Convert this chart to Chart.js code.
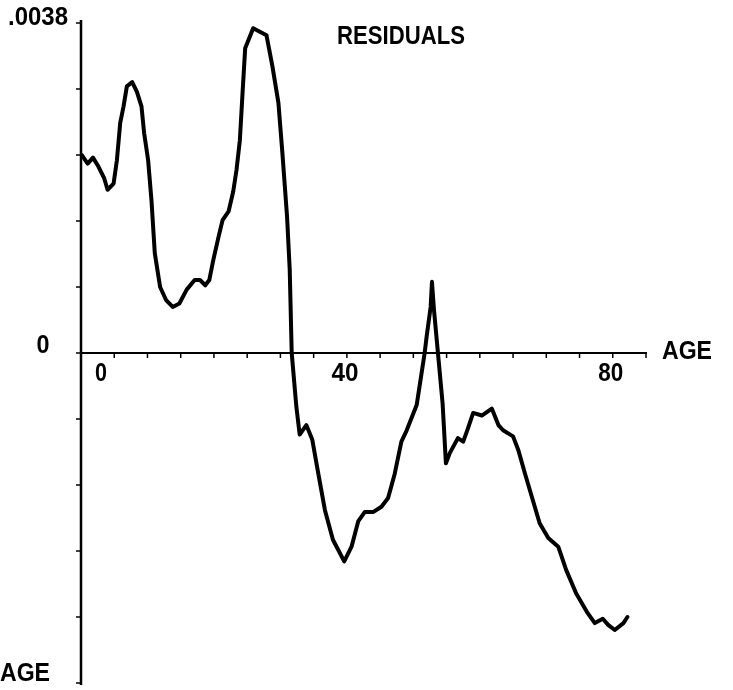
<!DOCTYPE html>
<html>
<head>
<meta charset="utf-8">
<script src="https://cdn.jsdelivr.net/npm/chart.js@4/dist/chart.umd.min.js"></script>
<style>
  body { margin: 0; background: #fff; }
  #wrap { width: 733px; height: 690px; }
</style>
</head>
<body>
<div id="wrap"><canvas id="residualChart" width="733" height="690"></canvas></div>
<script>
// values (age in years, residual)
const ages = [
  0.1, 1.0, 1.8, 2.6, 3.5, 4.0, 4.9, 5.4, 5.9, 6.4, 6.9, 7.7, 8.4, 9.1, 9.5, 10.1,
  10.6, 11.1, 11.9, 12.8, 13.8, 14.8, 15.9, 17.1, 17.9, 18.7, 19.3, 19.9, 20.7, 21.3,
  22.2, 22.9, 23.4, 23.9, 24.3, 24.7, 25.9, 26.9, 27.9, 28.8, 29.7, 30.3, 31.0, 31.4,
  31.7, 32.4, 32.9, 33.9, 34.8, 35.7, 36.7, 37.9, 39.6, 40.7, 41.7, 42.7, 44.0, 45.2,
  46.2, 47.2, 48.2, 49.0, 50.5, 51.0, 51.7, 52.0, 52.6, 52.8, 53.1, 53.7, 54.4, 54.9,
  55.5, 56.7, 57.5, 58.2, 59.0, 60.3, 61.8, 62.8, 63.5, 65.0, 65.8, 66.8, 67.8, 69.0,
  70.3, 71.8, 73.0, 74.5, 76.1, 77.3, 78.5, 79.3, 80.3, 81.6, 82.2
];
const residuals = [
  0.00228, 0.00218, 0.00225, 0.00215, 0.00201, 0.00188, 0.00195, 0.00222, 0.00265, 0.00284,
  0.00307, 0.00312, 0.00301, 0.00284, 0.00253, 0.00222, 0.00176, 0.00115, 0.00076, 0.00061,
  0.00053, 0.00057, 0.00073, 0.00084, 0.00084, 0.00078, 0.00084, 0.00107, 0.00134, 0.00153,
  0.00163, 0.00186, 0.00211, 0.00245, 0.00299, 0.00351, 0.00374, 0.00370, 0.00366, 0.00330,
  0.00288, 0.00230, 0.00157, 0.00096, 0.00000, -0.00062, -0.00094, -0.00083, -0.00100, -0.00139,
  -0.00181, -0.00215, -0.00240, -0.00223, -0.00194, -0.00183, -0.00183, -0.00177, -0.00167, -0.00139,
  -0.00102, -0.00089, -0.00060, -0.00035, 0.00000, 0.00019, 0.00053, 0.00082, 0.00050, 0.00000,
  -0.00058, -0.00127, -0.00115, -0.00098, -0.00102, -0.00087, -0.00069, -0.00072, -0.00064, -0.00083,
  -0.00089, -0.00096, -0.00112, -0.00139, -0.00165, -0.00196, -0.00213, -0.00223, -0.00250, -0.00277,
  -0.00298, -0.00311, -0.00306, -0.00313, -0.00319, -0.00311, -0.00304
];

// axis setup
const ageMin = 0, ageMax = 85, ageStep = 5;
const ageLabels = [0, 40, 80];
const ageLabelWidths = [12, 27, 25];
const resMax = 0.0038, resStep = 0.00076;

const FONT = "'Liberation Sans', Arial, sans-serif";

// draw text squeezed to a given width (the original lettering is condensed)
function fitText(ctx, text, cx, cy, size, width, weight) {
  ctx.save();
  ctx.font = (weight || 'bold') + ' ' + size + 'px ' + FONT;
  ctx.textAlign = 'center';
  ctx.textBaseline = 'middle';
  const w = ctx.measureText(text).width;
  ctx.translate(cx, cy);
  ctx.scale(width / w, 1);
  ctx.fillText(text, 0, 0);
  ctx.restore();
}

const axesPlugin = {
  id: 'oldAxes',
  beforeDatasetsDraw(chart) {
    const ctx = chart.ctx;
    const x = chart.scales.x, y = chart.scales.y;
    const x0 = x.getPixelForValue(0);
    const y0 = y.getPixelForValue(0);
    const yTop = y.getPixelForValue(resMax);
    const yBot = y.getPixelForValue(-resMax);
    ctx.save();
    ctx.strokeStyle = '#000';
    // vertical axis
    ctx.lineWidth = 2.5;
    ctx.beginPath();
    ctx.moveTo(x0, yTop - 3);
    ctx.lineTo(x0, yBot + 2);
    ctx.stroke();
    ctx.lineWidth = 1.5;
    for (let k = -5; k <= 5; k++) {
      const py = y.getPixelForValue(k * resStep);
      ctx.beginPath();
      ctx.moveTo(x0 - 5, py);
      ctx.lineTo(x0, py);
      ctx.stroke();
    }
    // horizontal axis at zero
    ctx.lineWidth = 2;
    ctx.beginPath();
    ctx.moveTo(x0, y0);
    ctx.lineTo(x.getPixelForValue(ageMax) + 1, y0);
    ctx.stroke();
    ctx.lineWidth = 1.5;
    for (let a = ageMin + ageStep; a <= ageMax; a += ageStep) {
      const px = x.getPixelForValue(a);
      ctx.beginPath();
      ctx.moveTo(px, y0);
      ctx.lineTo(px, y0 + 5);
      ctx.stroke();
    }
    ctx.restore();
  },
  afterDraw(chart) {
    const ctx = chart.ctx;
    const x = chart.scales.x, y = chart.scales.y;
    const x0 = x.getPixelForValue(0);
    const y0 = y.getPixelForValue(0);
    ctx.save();
    ctx.fillStyle = '#000';

    // tick labels on the age axis
    ageLabels.forEach((a, i) => {
      let px = x.getPixelForValue(a) - 2;
      if (a === 0) px += 22;
      fitText(ctx, String(a), px, y0 + 21, 25, ageLabelWidths[i]);
    });

    // residual labels
    fitText(ctx, '.0038', x0 - 43, y.getPixelForValue(resMax) - 5, 26, 60);
    fitText(ctx, '0', x0 - 38, y0 - 7, 25, 13);

    // axis names
    fitText(ctx, 'AGE', x.getPixelForValue(ageMax) + 41, y0 - 1, 25, 50);
    fitText(ctx, 'AGE', 25, y.getPixelForValue(-resMax) - 9, 25, 50);

    fitText(ctx, 'RESIDUALS', 401, 37, 25, 128);
    ctx.restore();
  }
};

const ctx = document.getElementById('residualChart').getContext('2d');
const chart = new Chart(ctx, {
  type: 'line',
  data: {
    datasets: [{
      label: 'Residuals',
      data: ages.map((a, i) => ({ x: a, y: residuals[i] })),
      borderColor: '#000',
      borderWidth: 4,
      pointRadius: 0,
      tension: 0,
      borderJoinStyle: 'round',
      borderCapStyle: 'round'
    }]
  },
  options: {
    responsive: false,
    animation: false,
    layout: { padding: { left: 81, right: 87, top: 23, bottom: 7 } },
    plugins: { legend: { display: false }, tooltip: { enabled: false } },
    scales: {
      x: { type: 'linear', min: ageMin, max: ageMax, display: false },
      y: { type: 'linear', min: -resMax, max: resMax, display: false }
    }
  },
  plugins: [axesPlugin]
});
</script>
</body>
</html>
